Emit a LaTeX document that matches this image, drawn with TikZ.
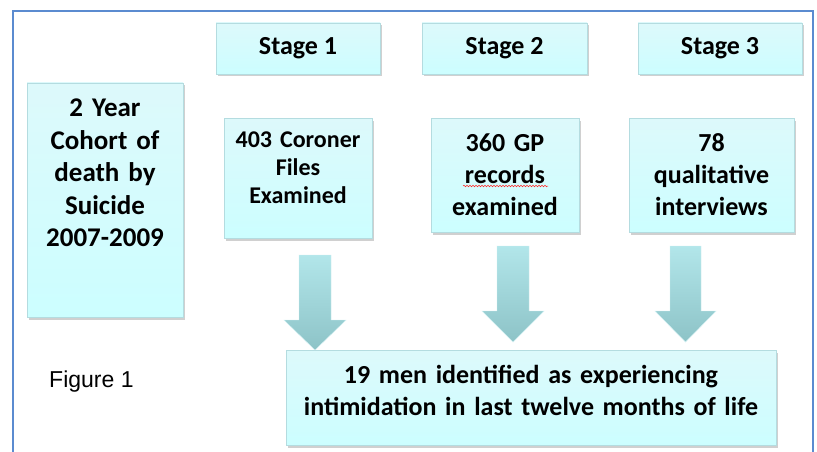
\documentclass[tikz,border=0pt]{standalone}
\usepackage{fontspec}
\setmainfont{Carlito}
\newfontfamily\arialfont{Liberation Sans}
\usetikzlibrary{shadows, calc, decorations.pathmorphing}
\definecolor{FrameBlue}{HTML}{5B8BD0}
\definecolor{BoxTop}{HTML}{DDF9FB}
\definecolor{BoxBottom}{HTML}{CCFEFF}
\definecolor{BoxEdge}{HTML}{B4DCE0}
\definecolor{ArrowTop}{HTML}{B2E6EA}
\definecolor{ArrowBottom}{HTML}{8DC3C7}
\tikzset{
  stagebox/.style={rectangle, draw=BoxEdge, line width=0.6pt,
    top color=BoxTop, bottom color=BoxBottom,
    drop shadow={shadow xshift=1.5pt, shadow yshift=-2.5pt, opacity=0.3, fill=black!60},
    inner sep=0pt, align=center, font=\bfseries\fontsize{26}{32}\selectfont},
  textdrop/.style={text height=0pt, text depth=#1},
  flowarrow/.style={top color=ArrowTop, bottom color=ArrowBottom, draw=ArrowTop!60, line width=0.4pt}
}
\begin{document}
\begin{tikzpicture}[x=1pt, y=-1pt]
    \path[use as bounding box, clip] (0,0) rectangle (817,452);
    \fill[white] (0,0) rectangle (817,452);
    \draw[FrameBlue, line width=2pt] (12.5,11.5) rectangle (812.5,480);

    % Stage headers
    \node[stagebox, minimum width=164pt, minimum height=51pt] (st1) at (298,48.5) {Stage 1};
    \node[stagebox, minimum width=165pt, minimum height=51pt] (st2) at (504.5,48.5) {Stage 2};
    \node[stagebox, minimum width=164pt, minimum height=51pt] (st3) at (720,48.5) {Stage 3};

    % Cohort
    \node[stagebox, minimum width=156pt, minimum height=234pt, text width=150pt,
          textdrop=166pt, font=\bfseries\fontsize{27}{32.5}\selectfont] (coh) at (105,200)
          {2 Year\\Cohort of\\death by\\Suicide\\2007-2009};

    % Stage results
    \node[stagebox, minimum width=148pt, minimum height=120pt, text width=144pt,
          textdrop=62pt, font=\bfseries\fontsize{24}{28}\selectfont] (cor) at (298,178)
          {403 Coroner\\Files\\Examined};
    \node[stagebox, minimum width=148pt, minimum height=114pt, text width=144pt,
          textdrop=48pt] (gp) at (505,175) {360 GP\\records\\examined};
    \node[stagebox, minimum width=165pt, minimum height=114pt, text width=160pt,
          textdrop=48pt] (qual) at (711.5,175) {78\\qualitative\\interviews};

    % Spelling mark under records
    \draw[red!85, line width=0.5pt, decorate,
          decoration={snake, amplitude=0.8pt, segment length=3pt}]
          ($(gp.center)+(-42,11)$) -- ($(gp.center)+(43,11)$);

    % Outcome
    \node[stagebox, minimum width=490pt, minimum height=95pt, text width=484pt,
          textdrop=29pt] (res) at (531,397.5)
          {19 men identified as experiencing\\intimidation in last twelve months of life};

    % Arrows
    \path[flowarrow] (299,255) -- (331,255) -- (331,320) -- (346,320)
        -- (315,350) -- (284,320) -- (299,320) -- cycle;
    \path[flowarrow] (497,246) -- (529,246) -- (529,311) -- (544,311)
        -- (513,342) -- (482,311) -- (497,311) -- cycle;
    \path[flowarrow] (670,246) -- (701,246) -- (701,311) -- (716,311)
        -- (685.5,342) -- (655,311) -- (670,311) -- cycle;

    % Caption
    \node[font=\arialfont\fontsize{23}{27}\selectfont, anchor=base west, inner sep=0pt]
          (fig) at (49,387) {Figure 1};
\end{tikzpicture}
\end{document}
